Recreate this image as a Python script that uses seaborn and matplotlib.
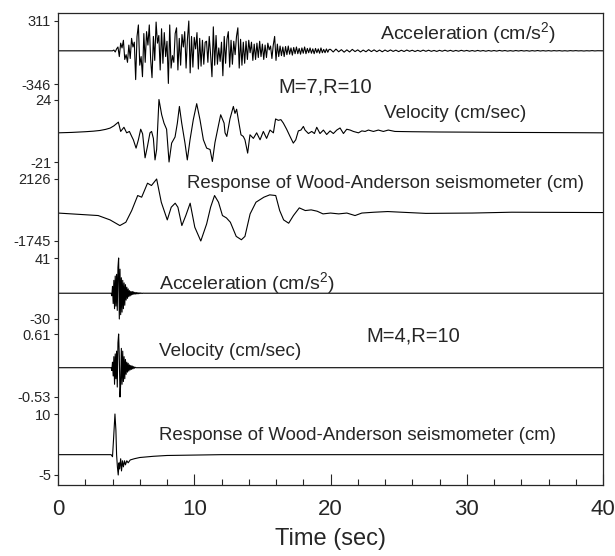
import numpy as np
import pandas as pd
import matplotlib
matplotlib.use("Agg")
import matplotlib.pyplot as plt
import seaborn as sns

# ---------------- data ----------------
# M=7 acceleration (cm/s^2): samples every 0.1 s from 4.0 s, then every 0.2 s from 20 s
acc7_start, acc7_dt = 4.0, 0.1
acc7_main = [
    0, 8, -12, 20,
    40, -60, 80, 30, 110, -90, -40,
    -120, 60, -80, 130, 40, 90,
    -300, 150, 270, -150, -60, -270, 180, -120, 200, 60,
    270, -90, -280, 150, -100, 300, 80, 160, -200, 230,
    -130, 190, -60, 100, -340, 270, -180, -50, -120, 180,
    240, -200, 130, -150, 170, 40, 200, -180, 120, 311,
    -230, 150, -170, 140, 20, 190, -190, 130, -160, 110,
    -140, 90, 100, -120, 150, -40, -270, 250, -150, 160,
    -140, 30, -110, 90, -260, 150, -130, 120, 200, -170,
    110, -140, 100, -40, 150, 240, -180, 120, -150, 90,
    -130, 100, -90, 110, -20, 90, -100, 70, -90, 80,
    -70, 100, -60, 70, -90, 60, -70, 80, 10, 50,
    -80, 60, 150, -100, 70, -60, 50, -50, 40, -60,
    45, -40, 50, -35, 30, -45, 35, -30, 40, -30,
    25, -35, 30, -25, 40, -30, 25, -20, 30, -25,
    20, -30, 25, -20, 20, -25, 30, -20, 15, -20,
    20, -15, 15,
]
acc7_tail_start, acc7_tail_dt = 20.0, 0.2
acc7_tail = [
    15, -12, 18, -10, 12, -14, 10, -12, 15, -8, 10, -12, 8, -10, 12, -8, 10, -9, 8, -10,
    8, -7, 9, -6, 7, -8, 6, -7, 8, -5, 6, -7, 5, -6, 7, -5, 6, -5, 4, -6,
    5, -4, 6, -4, 5, -5, 4, -4, 5, -3, 4, -4, 3, -4, 4, -3, 3, -4, 3, -3,
    3, -3, 4, -2, 3, -3, 2, -3, 3, -2, 3, -2, 2, -3, 2, -2, 3, -2, 2, -2,
    2, -2, 2, -1, 2, -2, 1, -2, 2, -1, 2, -1, 1, -2, 1, -1, 2, -1, 1, 0, 0,
]

# M=7 velocity (cm/sec)
vel7_t = [0, 1.0, 2.0, 2.6, 3.08, 3.5, 3.82, 4.1, 4.43, 4.6, 4.84, 5.04, 5.24, 5.41, 5.53,
          5.73, 5.9, 6.07, 6.21, 6.39, 6.56, 6.75, 6.87, 7.0, 7.12, 7.24, 7.41, 7.61, 7.78,
          7.97, 8.15, 8.34, 8.59, 8.76, 8.91, 9.08, 9.32, 9.49, 9.69, 9.93, 10.18, 10.42,
          10.67, 10.91, 11.16, 11.33, 11.52, 11.77, 11.94, 12.19, 12.26, 12.39, 12.62, 12.87,
          12.99, 13.11, 13.28, 13.43, 13.6, 13.72, 13.92, 14.09, 14.34, 14.58, 14.83, 15.07,
          15.31, 15.56, 15.81, 15.97, 16.17, 16.36, 16.54, 16.78, 17.03, 17.27, 17.45, 17.64,
          17.83, 18.01, 18.13, 18.38, 18.62, 18.82, 18.99, 19.23, 19.48, 19.72, 19.97, 20.21,
          20.46, 20.7, 20.95, 21.19, 21.44, 21.68, 22.05, 22.3, 22.54, 22.78, 23.15, 23.51,
          23.88, 24.24, 24.73, 26, 28, 30, 33, 36, 40]
vel7_v = [0, 0.3, 0.8, 1.2, 1.7, 2.5, 3.4, 5.0, 7.7, 1.0, 4.0, 0, 1.0, -2.6, -5,
          -11, -5, 2.6, -0.7, -18, -10, 0, 1, -4, -19.5, -12, 24, 13, 7,
          2.6, -21, -7.4, -3, 7, 19, 7, -7.4, -19.5, -5, 9.5, 21, 9.5,
          -5, -11, -12, -20.6, -7, 5, 13, 7, 0, -2.6, 10, 19,
          14, 17, 7, -1.4, -2.6, -5, -14.6, -1.4, -4, 0, -5, 1,
          -4, 2, 0, 10, 9, 9.5, 7, 2.6, -2.6, -7.4, -5, 1.4,
          2, 4.6, 2, -0.5, 1, -0.5, 4, -0.5, 2, -1.2, 1.4, -0.5,
          2, 3.5, -0.5, 2.6, 2, 1, 0, 1.4, 1, 2, 1, 2,
          1, 2, 1, 0.8, 0.6, 0.5, 0.3, 0.2, 0]

# M=7 Wood-Anderson response (cm)
wa7_t = [0, 2.95, 3.82, 4.54, 4.98, 5.41, 5.85, 6.14, 6.57, 6.86, 7.24, 7.58, 8.02, 8.31,
         8.6, 8.8, 9.09, 9.38, 9.7, 10.04, 10.48, 10.91, 11.2, 11.49, 11.78, 12.07, 12.36,
         12.65, 13.08, 13.46, 13.72, 14.1, 14.53, 15.11, 15.54, 15.98, 16.27, 16.56, 16.93,
         17.28, 17.71, 18.15, 18.58, 19.02, 19.45, 20.0, 20.6, 21.2, 21.8, 22.3, 23.2, 24.2,
         25.2, 27.0, 30.4, 33.3, 40]
wa7_v = [0, -156, -427, -781, -573, 156, 1094, 990, 1864, 1719, 2126, 677, -427, 364,
         615, 364, -781, -156, 615, -885, -1745, -677, 364, 1094, 677, -156, -302,
         -573, -1458, -1667, -1458, -52, 677, 990, 1136, 1094, 156, -427, -635,
         -156, 323, 156, 198, 115, -52, 0, -52, 0, -156, 0, 52, 94,
         52, -21, 0, 52, 31]

# M=4 acceleration (cm/s^2), every 0.05 s from 3.9 s
acc4_start, acc4_dt = 3.9, 0.05
acc4 = [0, -3, 8, -12, 15, -18, 20, -15, 22, -20, 30, 41, -30, 28, -25, 18, -22, 15, -18,
        12, -14, 10, -8, 7, -6, 5, -4, 3, -3, 2, -2, 2, -1.5, 1.5, -1, 1, -1, 0.8, -0.8,
        0.6, -0.6, 0.5, -0.4, 0.3, -0.3, 0.2, -0.2, 0.1, 0]

# M=4 velocity (cm/sec), every 0.05 s from 3.9 s
vel4_start, vel4_dt = 3.9, 0.05
vel4 = [0, -0.05, 0.1, -0.15, 0.2, -0.3, 0.25, -0.2, 0.3, -0.35, 0.45, 0.61, 0.2, -0.53,
        -0.3, 0.35, -0.3, 0.3, -0.25, 0.2, -0.2, 0.15, -0.12, 0.1, -0.08, 0.08, -0.06,
        0.05, -0.04, 0.04, -0.03, 0.03, -0.02, 0.02, -0.01, 0.01, 0]

# M=4 Wood-Anderson response (cm)
wa4_t = [0, 3.9, 4.0, 4.08, 4.18, 4.25, 4.3, 4.36, 4.42, 4.48, 4.52, 4.6, 4.66, 4.73, 4.8,
         4.88, 4.95, 5.05, 5.15, 5.3, 5.6, 6.0, 7.0, 8.0, 10.0, 12.0, 40]
wa4_v = [0, 0, -0.5, 4, 10, 6, 0, -3, -5, -2, -3.5, -1, -4, -1.5, -3,
         -1.5, -2.5, -1.5, -2, -1.3, -1.0, -0.7, -0.4, -0.2, -0.1, 0, 0]

# tick values (min, max) of each trace, top to bottom
trace_names = ["acc7", "vel7", "wa7", "acc4", "vel4", "wa4"]
trace_min = [-346, -21, -1745, -30, -0.53, -5]
trace_max = [311, 24, 2126, 41, 0.61, 10]
tick_text = [("-346", "311"), ("-21", "24"), ("-1745", "2126"),
             ("-30", "41"), ("-0.53", "0.61"), ("-5", "10")]

# vertical slot of each trace on the shared axis (low tick, high tick)
slots = [(401, 464), (323, 385.5), (244, 306), (166, 227), (88, 151), (10, 71)]


def sampled(start, dt, vals):
    t = start + dt * np.arange(len(vals))
    return list(np.r_[0.0, t]), [0.0] + list(vals)


t_a7, v_a7 = sampled(acc7_start, acc7_dt, acc7_main)
t_a7 += list(acc7_tail_start + acc7_tail_dt * np.arange(len(acc7_tail)))
v_a7 += acc7_tail
t_a4, v_a4 = sampled(acc4_start, acc4_dt, acc4)
t_a4 += [40.0]
v_a4 += [0.0]
t_v4, v_v4 = sampled(vel4_start, vel4_dt, vel4)
t_v4 += [40.0]
v_v4 += [0.0]

series = {
    "acc7": (t_a7, v_a7),
    "vel7": (vel7_t, vel7_v),
    "wa7": (wa7_t, wa7_v),
    "acc4": (t_a4, v_a4),
    "vel4": (t_v4, v_v4),
    "wa4": (wa4_t, wa4_v),
}

frames = []
for name, vmin, vmax, (lo, hi) in zip(trace_names, trace_min, trace_max, slots):
    t, v = series[name]
    y = lo + (np.asarray(v, float) - vmin) / (vmax - vmin) * (hi - lo)
    frames.append(pd.DataFrame({"t": t, "y": y, "trace": name}))
df = pd.concat(frames, ignore_index=True)

# ---------------- plot ----------------
sns.set_style("ticks")
plt.rcParams["font.family"] = ["Liberation Sans", "DejaVu Sans"]
plt.rcParams["mathtext.fontset"] = "custom"
plt.rcParams["mathtext.rm"] = "Liberation Sans"
plt.rcParams["mathtext.it"] = "Liberation Sans:italic"

fig = plt.figure(figsize=(6.15, 5.56), dpi=100)
ax = fig.add_axes([58 / 615, 71 / 556, 545 / 615, 472 / 556])

sns.lineplot(data=df, x="t", y="y", units="trace", estimator=None, sort=False,
             color="black", linewidth=0.8, ax=ax)

ax.set_xlim(0, 40)
ax.set_ylim(0, 472)

yt, yl = [], []
for (lo, hi), (tlo, thi) in zip(slots, tick_text):
    yt += [lo, hi]
    yl += [tlo, thi]
ax.set_yticks(yt)
ax.set_yticklabels(yl, fontsize=10.5)
ax.tick_params(axis="y", direction="out", length=3, width=0.8, pad=2)

ax.set_xticks([0, 10, 20, 30, 40])
ax.set_xticks(np.arange(0, 41, 2), minor=True)
ax.tick_params(axis="x", which="major", direction="in", length=8, width=0.8,
               labelsize=16, pad=10)
ax.tick_params(axis="x", which="minor", direction="in", length=4, width=0.8)
ax.set_xlabel("Time (sec)", fontsize=17, labelpad=6)
ax.set_ylabel("")
for s in ax.spines.values():
    s.set_linewidth(0.9)

txt = dict(va="center", ha="left")
ax.text(23.63, 452, "Acceleration (cm/s$^2$)", fontsize=14, **txt)
ax.text(16.15, 398, "M=7,R=10", fontsize=14.5, **txt)
ax.text(23.93, 371, "Velocity (cm/sec)", fontsize=13.6, **txt)
ax.text(9.47, 301, "Response of Wood-Anderson seismometer (cm)", fontsize=13.4, **txt)
ax.text(7.41, 202, "Acceleration (cm/s$^2$)", fontsize=14, **txt)
ax.text(22.6, 149, "M=4,R=10", fontsize=14.5, **txt)
ax.text(7.41, 134, "Velocity (cm/sec)", fontsize=13.6, **txt)
ax.text(7.41, 49, "Response of Wood-Anderson seismometer (cm)", fontsize=13.4, **txt)

fig.savefig("out.png", dpi=100)
